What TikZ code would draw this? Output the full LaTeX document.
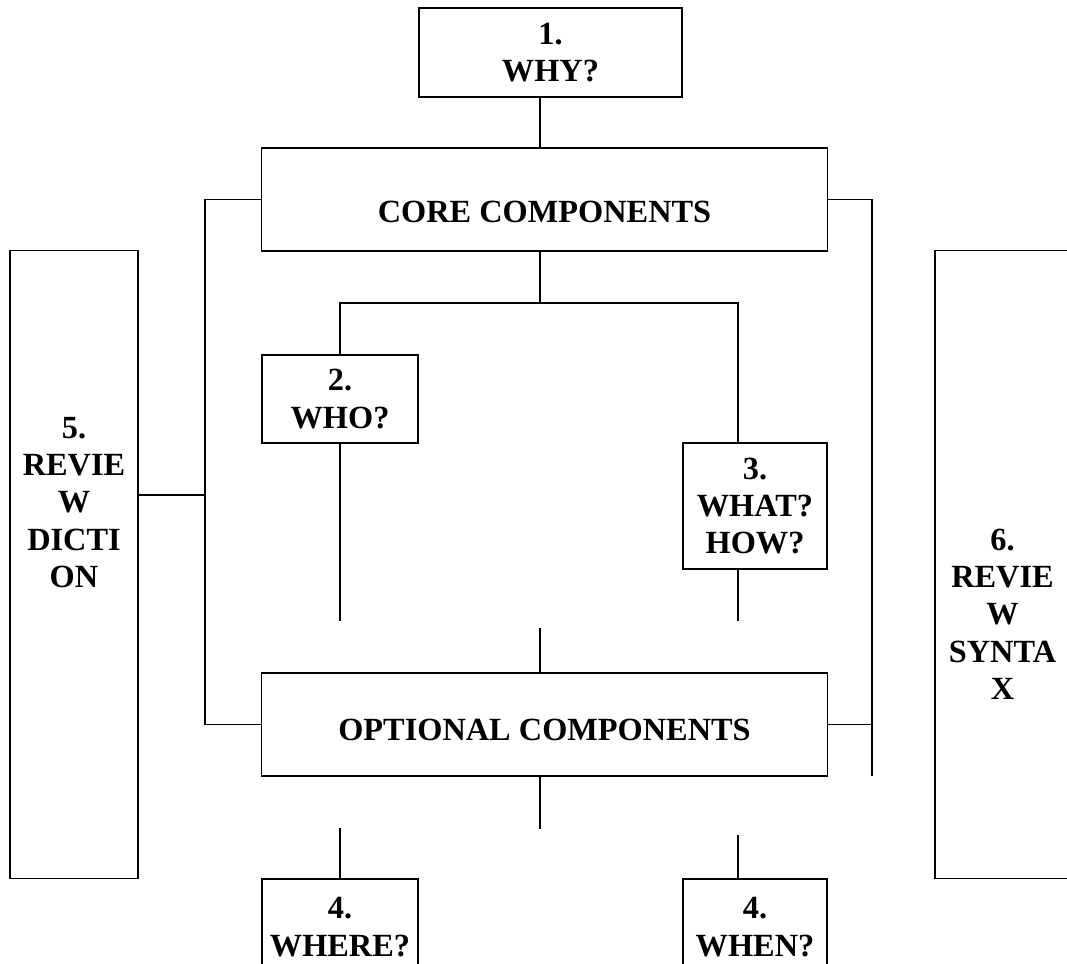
\documentclass[tikz,border=0pt]{standalone}
\usepackage{fontspec}
\setmainfont{Liberation Serif}

\begin{document}
\begin{tikzpicture}[
            x=0.025cm,y=-0.025cm,thick,
            qnode/.style={rectangle, draw, inner sep=0pt, align=center, font=\bfseries\fontsize{23}{26.5}\selectfont},
            qtext/.style={align=center, inner sep=0pt, font=\bfseries\fontsize{23}{26.5}\selectfont},
            ]
            \useasboundingbox (0,0) rectangle (1067,963);
            \clip (0,0) rectangle (1067,963);
            
            % Nodes
            \node[qnode, minimum width=6.575cm, minimum height=2.225cm] (why) at (550.5,52.5) {1.\\WHY?};
            \node[qnode, minimum width=14.125cm, minimum height=2.575cm,
                  label={[name=coretext, qtext, yshift=-0.3cm]center:CORE COMPONENTS}] (core) at (544.5,199.5) {};
            \node[qnode, minimum width=3.9cm, minimum height=2.2cm] (who) at (340,399) {2.\\WHO?};
            \node[qnode, minimum width=3.6cm, minimum height=3.15cm] (what) at (755,506) {3.\\WHAT?\\HOW?};
            \node[qnode, minimum width=14.125cm, minimum height=2.575cm,
                  label={[name=optionaltext, qtext, yshift=-0.14cm]center:OPTIONAL COMPONENTS}] (optional) at (544.5,724.5) {};
            \node[qnode, minimum width=3.2cm, minimum height=15.675cm,
                  label={[name=dictiontext, qtext, yshift=1.55cm]center:{5.\\REVIE\\W\\DICTI\\ON}}] (diction) at (74,564.5) {};
            \node[qnode, minimum width=3.375cm, minimum height=15.675cm,
                  label={[name=syntaxtext, qtext, yshift=-1.24cm]center:{6.\\REVIE\\W\\SYNTA\\X}}] (syntax) at (1002.5,564.5) {};
            \node[qnode, minimum width=3.9cm, minimum height=2.4cm] (where) at (340,927) {4.\\WHERE?};
            \node[qnode, minimum width=3.6cm, minimum height=2.4cm] (when) at (755,927) {4.\\WHEN?};
            
            % Bends and free ends
            \coordinate (trunk) at (540,0);
            \coordinate (lbus) at (205,0);
            \coordinate (rbus) at (872,0);
            \coordinate (lmid) at (205,495);
            \coordinate (rend) at (872,776);
            \coordinate (split) at (540,303);
            \coordinate (rdrop) at (738,303);
            \coordinate (whoend) at (340,621);
            \coordinate (whatend) at (738,621);
            \coordinate (midtop) at (540,628);
            \coordinate (midbot) at (540,829);
            \coordinate (whereend) at (340,828);
            \coordinate (whenend) at (738,835);
            
            % Lines
            \draw (why.south -| trunk) -- (core.north -| trunk);
            \draw (core.west) -- (core.west -| lbus) -- (optional.west -| lbus) -- (optional.west);
            \draw (diction.east |- lmid) -- (lmid);
            \draw (core.east) -- (core.east -| rbus) -- (rend);
            \draw (optional.east) -- (optional.east -| rbus);
            \draw (core.south -| split) -- (split);
            \draw (who.north) |- (rdrop) -- (what.north -| rdrop);
            \draw (who.south) -- (whoend);
            \draw (what.south -| rdrop) -- (whatend);
            \draw (midtop) -- (optional.north -| midtop);
            \draw (optional.south -| midbot) -- (midbot);
            \draw (whereend) -- (where.north);
            \draw (whenend) -- (when.north -| whenend);
        \end{tikzpicture}
\end{document}
